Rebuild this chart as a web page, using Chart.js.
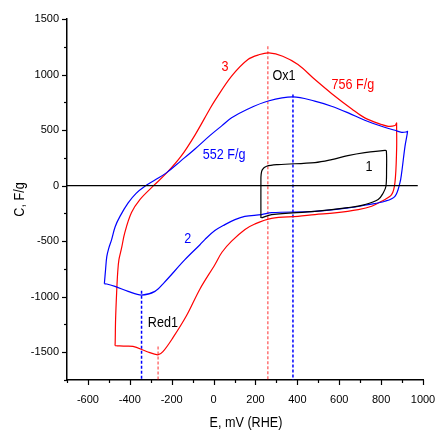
<!DOCTYPE html>
<html>
<head>
<meta charset="utf-8">
<script src="https://cdn.jsdelivr.net/npm/chart.js@4/dist/chart.umd.min.js"></script>
<style>
  html, body { margin: 0; padding: 0; background: #fff; }
</style>
</head>
<body>
<canvas id="cv" width="435" height="433"></canvas>
<script>
const FONT = "'Liberation Sans', Arial, sans-serif";

// cycle 1 (black), potential mV / capacitance F/g
const e1 = [226, 226, 227, 233, 253, 307, 484, 564, 641, 722, 818, 825, 826, 823, 810, 786, 722, 641, 484, 277, 229];
const c1 = [-291, 40, 99, 144, 174, 189, 207, 234, 270, 297, 318, 312, 144, -6, -66, -126, -171, -198, -232, -261, -291];

// cycle 2 (blue)
const e2 = [-522, -521, -516, -510, -500, -487, -470, -447, -408, -370, -328, -280, -224, -155, -89, -18, 40, 86, 164, 261, 379, 483, 563, 643, 722, 802, 866, 898, 922, 926, 925, 914, 898, 890, 866, 818, 738, 643, 484, 277, 229, 149, 102, 54, 6, -42, -65, -137, -237, -280, -344, -408, -471, -510, -522];
const c2 = [-883, -870, -760, -640, -560, -486, -370, -277, -156, -70, -6, 50, 117, 225, 330, 450, 540, 610, 690, 762, 799, 761, 715, 655, 589, 534, 498, 480, 484, 489, 470, 354, 114, 27, -96, -141, -171, -201, -232, -243, -261, -277, -306, -351, -405, -486, -532, -667, -875, -952, -985, -952, -907, -886, -883];

// cycle 3 (red)
const e3 = [-471, -470, -468, -463, -458, -452, -439, -424, -392, -352, -288, -224, -155, -89, -18, 6, 86, 164, 220, 264, 330, 403, 484, 563, 660, 722, 802, 834, 866, 873, 874, 874, 874, 866, 850, 802, 755, 691, 579, 484, 403, 277, 197, 150, 86, 40, 6, -65, -129, -194, -242, -266, -320, -385, -430, -460, -471];
const c3 = [-1441, -1420, -1207, -964, -784, -667, -559, -423, -243, -126, -3, 114, 265, 455, 690, 765, 985, 1135, 1180, 1195, 1165, 1090, 955, 830, 690, 610, 550, 534, 541, 560, 565, 540, 324, 27, -81, -141, -186, -216, -246, -261, -277, -295, -345, -395, -500, -600, -712, -930, -1170, -1369, -1495, -1523, -1493, -1448, -1445, -1442, -1441];

// peak markers (dotted verticals)
const peakE = [259, 379, -265, -344];
const peakTop = [1255, 820, -1448, -946];
const peakColor = ['rgba(255,0,0,0.55)', '#0000ff', 'rgba(255,0,0,0.55)', '#0000ff'];

const zeroE = [-700, 975];

const xTickLabels = [-600, -400, -200, 0, 200, 400, 600, 800, 1000];
const yTickLabels = [-1500, -1000, -500, 0, 500, 1000, 1500];

// text notes
const noteText = ['3', 'Ox1', '756 F/g', '552 F/g', '1', '2', 'Red1'];
const noteE = [54, 336, 665, 50, 742, -123, -242];
const noteC = [1072, 991, 910, 279, 171, -477, -1234];
const noteColor = ['#ff0000', '#000000', '#ff0000', '#0000ff', '#000000', '#0000ff', '#000000'];

const pts = (xs, ys) => xs.map((x, i) => ({ x: x, y: ys[i] }));

const datasets = [
  { data: [{ x: zeroE[0], y: 0 }, { x: zeroE[1], y: 0 }], borderColor: '#000', borderWidth: 1.3, tension: 0 },
  { data: pts(e1, c1), borderColor: '#000000', borderWidth: 1.2, tension: 0.35 },
  { data: pts(e2, c2), borderColor: '#0000ff', borderWidth: 1.2, tension: 0.35 },
  { data: pts(e3, c3), borderColor: '#ff0000', borderWidth: 1.2, tension: 0.35 },
];
peakE.forEach((e, i) => {
  datasets.push({
    data: [{ x: e, y: peakTop[i] }, { x: e, y: -1750 }],
    borderColor: peakColor[i], borderWidth: 1.5, borderDash: [3, 2], tension: 0
  });
});

// narrow-looking text, like the original figure
function narrowText(ctx, text, x, y, color, size, rot) {
  ctx.save();
  ctx.translate(x, y);
  if (rot) ctx.rotate(rot);
  ctx.scale(0.84, 1);
  ctx.font = size + 'px ' + FONT;
  ctx.fillStyle = color;
  ctx.textAlign = 'center';
  ctx.textBaseline = 'middle';
  ctx.fillText(text, 0, 0);
  ctx.restore();
}

const tickMarks = {
  id: 'tickMarks',
  afterDraw(chart) {
    const ctx = chart.ctx;
    const xs = chart.scales.x, ys = chart.scales.y;
    ctx.save();
    ctx.strokeStyle = '#000';
    ctx.lineWidth = 1.2;
    xs.ticks.forEach(t => {
      const px = Math.round(xs.getPixelForValue(t.value)) + 0.5;
      const len = t.value % 200 === 0 ? 5 : 3;
      ctx.beginPath();
      ctx.moveTo(px, xs.top);
      ctx.lineTo(px, xs.top + len);
      ctx.stroke();
    });
    ys.ticks.forEach(t => {
      const py = Math.round(ys.getPixelForValue(t.value)) + 0.5;
      const len = t.value % 500 === 0 ? 5 : 3;
      ctx.beginPath();
      ctx.moveTo(ys.right, py);
      ctx.lineTo(ys.right - len, py);
      ctx.stroke();
    });
    ctx.restore();
    const a = chart.chartArea;
    narrowText(ctx, 'E, mV (RHE)', (a.left + a.right) / 2 + 1, 423, '#000', 15, 0);
    narrowText(ctx, 'C, F/g', 20, (a.top + a.bottom) / 2, '#000', 15, -Math.PI / 2);
  }
};

const notes = {
  id: 'notes',
  afterDatasetsDraw(chart) {
    const xs = chart.scales.x, ys = chart.scales.y;
    noteText.forEach((t, i) => {
      narrowText(chart.ctx, t, xs.getPixelForValue(noteE[i]), ys.getPixelForValue(noteC[i]), noteColor[i], 15, 0);
    });
  }
};

new Chart(document.getElementById('cv'), {
  type: 'scatter',
  data: { datasets: datasets },
  plugins: [tickMarks, notes],
  options: {
    responsive: false,
    animation: false,
    devicePixelRatio: 1,
    showLine: true,
    elements: { point: { radius: 0, hoverRadius: 0 } },
    layout: { padding: { top: 19, right: 0, left: 0, bottom: 0 } },
    plugins: { legend: { display: false }, tooltip: { enabled: false } },
    scales: {
      x: {
        type: 'linear', min: -700, max: 1000,
        grid: { drawOnChartArea: false, drawTicks: false },
        border: { color: '#000', width: 1.5 },
        ticks: {
          stepSize: 100, autoSkip: false, maxRotation: 0, padding: 13, color: '#000',
          font: { family: FONT, size: 11 },
          callback: v => xTickLabels.includes(v) ? String(v) : ''
        },
        afterFit: s => { s.height = 53; s.paddingLeft = 0; s.paddingRight = 12; }
      },
      y: {
        type: 'linear', min: -1750, max: 1500,
        grid: { drawOnChartArea: false, drawTicks: false },
        border: { color: '#000', width: 1.5 },
        ticks: {
          stepSize: 250, autoSkip: false, padding: 8, color: '#000',
          font: { family: FONT, size: 11 },
          callback: v => yTickLabels.includes(v) ? String(v) : ''
        },
        afterFit: s => { s.width = 67; s.paddingTop = 0; s.paddingBottom = 0; }
      }
    }
  }
});
</script>
</body>
</html>
